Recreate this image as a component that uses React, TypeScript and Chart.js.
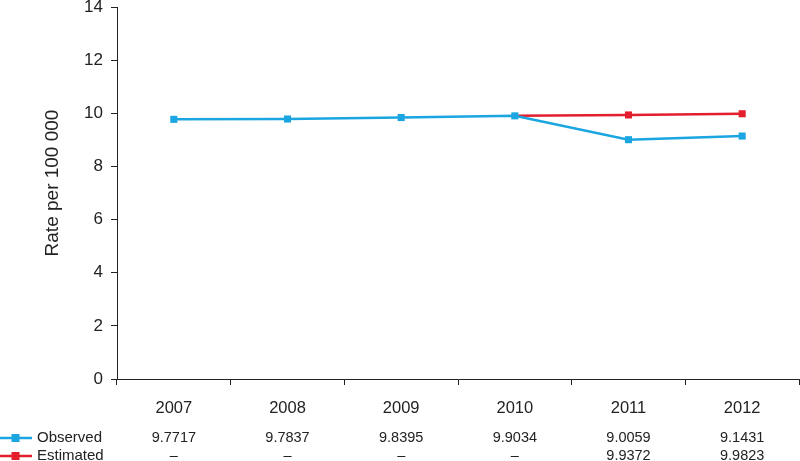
import React, { useEffect, useRef } from "react";
import { Chart, registerables } from "chart.js";

Chart.register(...registerables);

const years = ["2007", "2008", "2009", "2010", "2011", "2012"];
const observed = [9.7717, 9.7837, 9.8395, 9.9034, 9.0059, 9.1431];
const estimated: (number | null)[] = [null, null, null, null, 9.9372, 9.9823];
const seriesNames = ["Observed", "Estimated"];
const seriesColors = ["#1BA6E1", "#E31E2D"];
const yTicks = [0, 2, 4, 6, 8, 10, 12, 14];
const yTitle = "Rate per 100 000";

const FONT = "'Liberation Sans', Arial, sans-serif";

// estimated line joins the last observed-only year
const firstEst = estimated.findIndex((v) => v !== null);
const estimatedLine = estimated.map((v, i) => (v !== null ? v : i === firstEst - 1 ? observed[i] : null));

const tablePlugin = {
  id: "dataTable",
  afterDraw(chart: any) {
    const ctx = chart.ctx;
    const xs = chart.scales.x;
    const ys = chart.scales.y;
    const rows = [observed, estimated];
    const rowY = [438, 456];
    ctx.save();
    // y title
    ctx.save();
    ctx.translate(53, (ys.top + ys.bottom) / 2 - 10);
    ctx.rotate(-Math.PI / 2);
    ctx.fillStyle = "#222";
    ctx.font = `19px ${FONT}`;
    ctx.textAlign = "center";
    ctx.textBaseline = "middle";
    ctx.fillText(yTitle, 0, 0);
    ctx.restore();
    rows.forEach((row, r) => {
      const y = rowY[r];
      const col = seriesColors[r];
      ctx.strokeStyle = col;
      ctx.lineWidth = 2.5;
      ctx.beginPath();
      ctx.moveTo(0, y);
      ctx.lineTo(32, y);
      ctx.stroke();
      ctx.fillStyle = col;
      ctx.fillRect(11.5, y - 4, 8, 8);
      ctx.fillStyle = "#222";
      ctx.font = `15px ${FONT}`;
      ctx.textAlign = "left";
      ctx.textBaseline = "middle";
      ctx.fillText(seriesNames[r], 37, y);
      ctx.textAlign = "center";
      ctx.font = `14.5px ${FONT}`;
      row.forEach((v, i) => {
        const x = xs.getPixelForValue(i);
        ctx.fillText(v === null ? "–" : v.toFixed(4), x, y);
      });
    });
    ctx.restore();
  },
};

export default function App() {
  const ref = useRef<HTMLCanvasElement>(null);
  useEffect(() => {
    if (!ref.current) return;
    const chart = new Chart(ref.current, {
      type: "line",
      data: {
        labels: years,
        datasets: [
          {
            label: seriesNames[0],
            data: observed,
            borderColor: seriesColors[0],
            backgroundColor: seriesColors[0],
            borderWidth: 2.5,
            pointStyle: "rect",
            pointRadius: 5,
            pointBorderWidth: 0,
            tension: 0,
          },
          {
            label: seriesNames[1],
            data: estimatedLine,
            borderColor: seriesColors[1],
            backgroundColor: seriesColors[1],
            borderWidth: 2.5,
            pointStyle: "rect",
            pointRadius: estimatedLine.map((v, i) => (estimated[i] === null ? 0 : 5)),
            pointBorderWidth: 0,
            tension: 0,
            spanGaps: false,
          },
        ],
      },
      options: {
        animation: false,
        responsive: false,
        maintainAspectRatio: false,
        layout: { autoPadding: false, padding: { left: 0, right: 1, top: 7, bottom: 0 } },
        plugins: { legend: { display: false }, tooltip: { enabled: false } },
        scales: {
          x: {
            offset: true,
            grid: { offset: true, drawOnChartArea: false, drawTicks: true, tickLength: 6, color: "#222", lineWidth: 1 },
            border: { display: true, color: "#222", width: 1 },
            ticks: { color: "#222", font: { family: FONT, size: 16.5 }, padding: 14, maxRotation: 0 },
            afterFit: (s: any) => {
              s.height = 82;
              s.paddingLeft = 0;
              s.paddingRight = 0;
            },
          },
          y: {
            min: 0,
            max: 14,
            afterBuildTicks: (s: any) => {
              s.ticks = yTicks.map((v) => ({ value: v }));
            },
            grid: { drawOnChartArea: false, drawTicks: true, tickLength: 6, color: "#222", lineWidth: 1 },
            border: { display: true, color: "#222", width: 1 },
            ticks: { color: "#222", font: { family: FONT, size: 17 }, padding: 8 },
            afterFit: (s: any) => {
              s.width = 117;
              s.paddingTop = 0;
              s.paddingBottom = 0;
            },
          },
        },
      },
      plugins: [tablePlugin],
    });
    return () => chart.destroy();
  }, []);
  return (
    <div style={{ position: "fixed", left: 0, top: 0, width: 800, height: 461, background: "#fff" }}>
      <canvas ref={ref} width={800} height={461} style={{ display: "block" }} />
    </div>
  );
}
